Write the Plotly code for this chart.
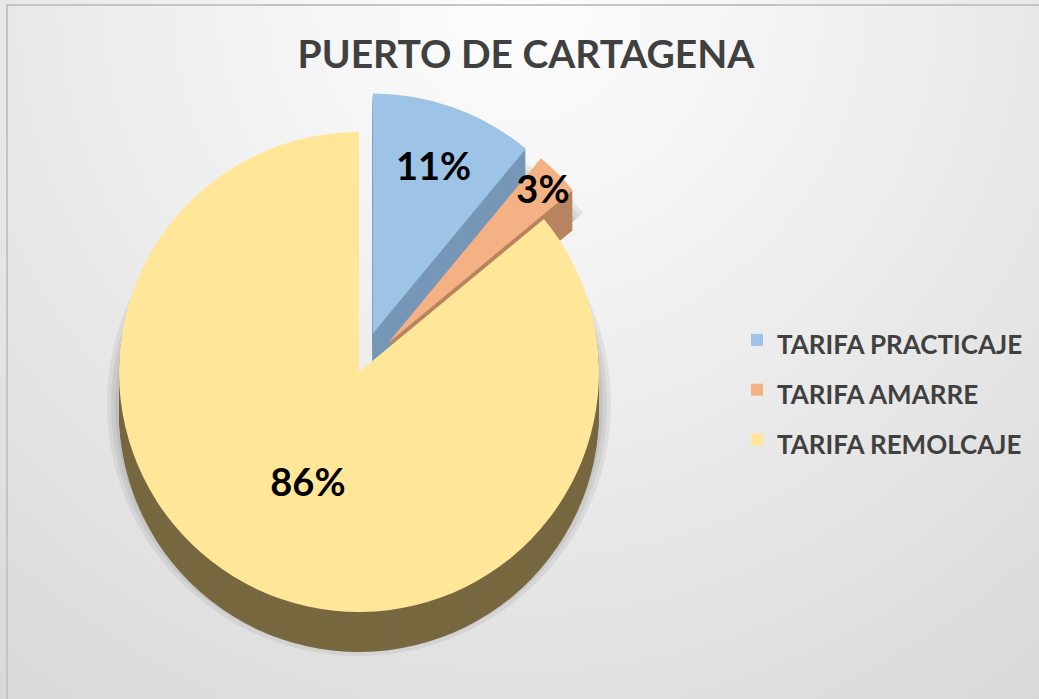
import plotly.graph_objects as go

# Tariff shares at the port of Cartagena (percent)
categories = ["TARIFA PRACTICAJE", "TARIFA AMARRE", "TARIFA REMOLCAJE"]
shares = [11, 3, 86]

face_colors = ["#9dc3e6", "#f4b183", "#ffe699"]
side_colors = ["#7797b7", "#b8845f", "#776840"]
explode = [0.17, 0.17, 0.0]

W, H = 1039, 699
FONT = "Lato"

# legend entries: text drawn at 26px inside roomier legend rows
legend_labels = [f"<span style='font-size:26px'>{c}</span>" for c in categories]

# pie placement in pixels
cx, cy, R = 359, 372, 240
depth = 40


def pie_domain(offset, radius=R):
    half = radius * (1 + max(explode))
    top = cy + offset - half
    bottom = cy + offset + half
    return dict(x=[(cx - half) / W, (cx + half) / W],
                y=[max(0.0, 1 - bottom / H), 1 - top / H])


fig = go.Figure()

# soft radial background, brightest at the top centre
bx, by = 900 / W, 900 / H
fig.add_trace(go.Scatter(
    x=[0.5 - bx, 0.5 + bx, 0.5 + bx, 0.5 - bx, 0.5 - bx],
    y=[1 - by, 1 - by, 1 + by, 1 + by, 1 - by],
    mode="lines", line=dict(width=0), fill="toself",
    fillgradient=dict(type="radial",
                      colorscale=[[0, "#fdfdfd"], [0.35, "#f1f1f1"],
                                  [0.7, "#e3e3e3"], [1, "#d7d7d7"]]),
    hoverinfo="skip", showlegend=False,
))

# faint drop shadow under the pie
for grow in (12, 8, 4):
    fig.add_trace(go.Pie(
        labels=legend_labels, values=shares, sort=False, direction="clockwise",
        rotation=0, pull=explode, domain=pie_domain(32, R + grow),
        marker=dict(colors=["rgba(0,0,0,0.06)"] * 3, line=dict(width=0)),
        textinfo="none", hoverinfo="skip", showlegend=False,
    ))

# extruded side of the pie: stacked copies shifted downwards
for d in range(depth, 0, -2):
    fig.add_trace(go.Pie(
        labels=legend_labels, values=shares, sort=False, direction="clockwise",
        rotation=0, pull=explode, domain=pie_domain(d),
        marker=dict(colors=side_colors, line=dict(width=0)),
        textinfo="none", hoverinfo="skip", showlegend=False,
    ))

# top face with percentage labels
fig.add_trace(go.Pie(
    labels=legend_labels, values=shares, sort=False, direction="clockwise",
    rotation=0, pull=explode, domain=pie_domain(0),
    marker=dict(colors=face_colors, line=dict(width=0)),
    texttemplate="%{value}%", textposition="inside",
    insidetextorientation="horizontal",
    textfont=dict(family=FONT, size=38, color="#000000", weight="bold"),
    showlegend=True,
))

fig.update_layout(
    width=W, height=H,
    margin=dict(l=0, r=0, t=0, b=0),
    paper_bgcolor="#e6e6e6",
    plot_bgcolor="rgba(0,0,0,0)",
    xaxis=dict(range=[0, 1], visible=False, fixedrange=True),
    yaxis=dict(range=[0, 1], visible=False, fixedrange=True),
    uniformtext=dict(mode="show", minsize=38),
    title=dict(text="PUERTO DE CARTAGENA", x=526 / W, xanchor="center",
               y=1 - 54 / H, yanchor="middle",
               font=dict(family=FONT, size=39, color="#404040", weight="bold")),
    legend=dict(x=737 / W, xanchor="left", y=1 - 390 / H, yanchor="middle",
                bgcolor="rgba(0,0,0,0)",
                font=dict(family=FONT, size=36, color="#404040", weight="bold")),
    shapes=[dict(type="rect", xref="paper", yref="paper",
                 x0=7 / W, x1=1.02, y0=-0.02, y1=1 - 5 / H,
                 line=dict(color="#c4c4c4", width=2))],
    showlegend=True,
)

fig.write_html("out.html")
